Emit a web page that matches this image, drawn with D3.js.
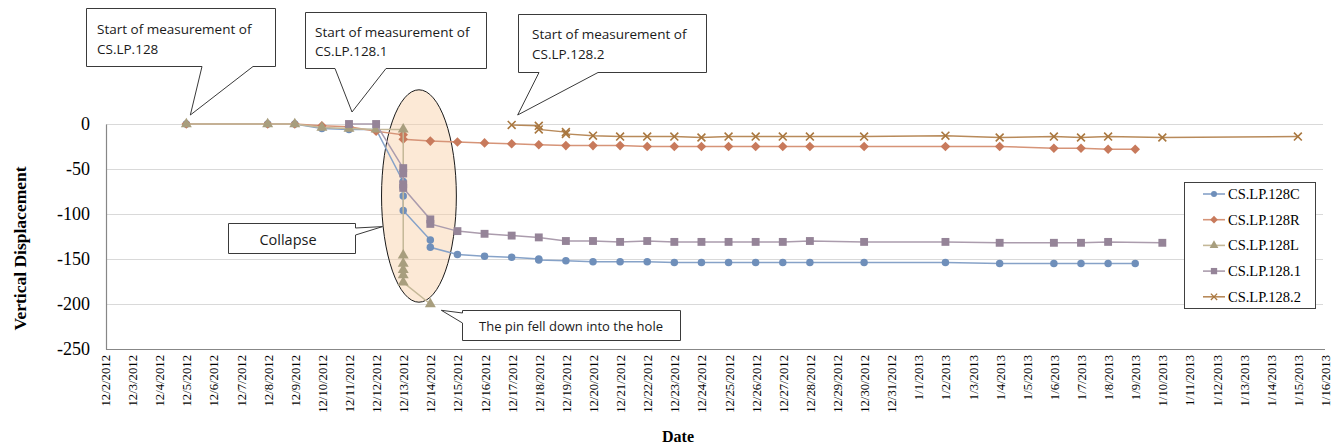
<!DOCTYPE html>
<html><head><meta charset="utf-8">
<script src="https://cdn.jsdelivr.net/npm/d3@7"></script>
<style>html,body{margin:0;padding:0;background:#fff;}svg{display:block;}
.serif{font-family:"Liberation Serif","Times New Roman",serif;}
.sans{font-family:"Open Sans","Noto Sans",sans-serif;}</style>
</head><body><svg id="chart" width="1333" height="447"></svg>
<script>
// ---------- DATA ----------
const tickLabels = ["12/2/2012","12/3/2012","12/4/2012","12/5/2012","12/6/2012","12/7/2012","12/8/2012","12/9/2012","12/10/2012","12/11/2012","12/12/2012","12/13/2012","12/14/2012","12/15/2012","12/16/2012","12/17/2012","12/18/2012","12/19/2012","12/20/2012","12/21/2012","12/22/2012","12/23/2012","12/24/2012","12/25/2012","12/26/2012","12/27/2012","12/28/2012","12/29/2012","12/30/2012","12/31/2012","1/1/2013","1/2/2013","1/3/2013","1/4/2013","1/5/2013","1/6/2013","1/7/2013","1/8/2013","1/9/2013","1/10/2013","1/11/2013","1/12/2013","1/13/2013","1/14/2013","1/15/2013","1/16/2013"];
const yTicks = [0,-50,-100,-150,-200,-250];
const seriesNames = ["CS.LP.128C","CS.LP.128R","CS.LP.128L","CS.LP.128.1","CS.LP.128.2"];

const cDates = ["12/5/2012","12/8/2012","12/9/2012","12/10/2012","12/11/2012","12/12/2012","12/13/2012","12/13/2012","12/13/2012","12/13/2012","12/14/2012","12/14/2012","12/15/2012","12/16/2012","12/17/2012","12/18/2012","12/18/2012","12/19/2012","12/20/2012","12/21/2012","12/22/2012","12/23/2012","12/24/2012","12/25/2012","12/26/2012","12/27/2012","12/28/2012","12/30/2012","1/2/2013","1/4/2013","1/6/2013","1/7/2013","1/8/2013","1/9/2013"];
const cValues = [0,0,0,-5,-6,-6,-64,-71,-80,-96,-129,-137,-145,-147,-148,-150,-151,-152,-153,-153,-153,-154,-154,-154,-154,-154,-154,-154,-154,-155,-155,-155,-155,-155];

const rDates = ["12/5/2012","12/8/2012","12/9/2012","12/10/2012","12/11/2012","12/12/2012","12/13/2012","12/13/2012","12/14/2012","12/15/2012","12/16/2012","12/17/2012","12/18/2012","12/19/2012","12/20/2012","12/21/2012","12/22/2012","12/23/2012","12/24/2012","12/25/2012","12/26/2012","12/27/2012","12/28/2012","12/30/2012","1/2/2013","1/4/2013","1/6/2013","1/7/2013","1/8/2013","1/9/2013"];
const rValues = [0,0,0,-2,-3,-8,-12,-17,-19,-20,-21,-22,-23,-24,-24,-24,-25,-25,-25,-25,-25,-25,-25,-25,-25,-25,-27,-27,-28,-28];

const lDates = ["12/5/2012","12/8/2012","12/9/2012","12/10/2012","12/11/2012","12/12/2012","12/13/2012","12/13/2012","12/13/2012","12/13/2012","12/13/2012","12/13/2012","12/14/2012"];
const lValues = [0,0,0,-4,-5,-6,-6,-146,-155,-162,-168,-176,-200];

const p1Dates = ["12/11/2012","12/12/2012","12/13/2012","12/13/2012","12/13/2012","12/13/2012","12/14/2012","12/14/2012","12/15/2012","12/16/2012","12/17/2012","12/18/2012","12/19/2012","12/20/2012","12/21/2012","12/22/2012","12/23/2012","12/24/2012","12/25/2012","12/26/2012","12/27/2012","12/28/2012","12/30/2012","1/2/2013","1/4/2013","1/6/2013","1/7/2013","1/8/2013","1/10/2013"];
const p1Values = [0,0,-49,-55,-67,-71,-106,-111,-119,-122,-124,-126,-130,-130,-131,-130,-131,-131,-131,-131,-131,-130,-131,-131,-132,-132,-132,-131,-132];

const p2Dates = ["12/17/2012","12/18/2012","12/18/2012","12/19/2012","12/19/2012","12/20/2012","12/21/2012","12/22/2012","12/23/2012","12/24/2012","12/25/2012","12/26/2012","12/27/2012","12/28/2012","12/30/2012","1/2/2013","1/4/2013","1/6/2013","1/7/2013","1/8/2013","1/10/2013","1/15/2013"];
const p2Values = [-1,-2,-6,-9,-11,-13,-14,-14,-14,-15,-14,-14,-14,-14,-14,-13,-15,-14,-15,-14,-15,-14];

const seriesDates = [cDates, rDates, lDates, p1Dates, p2Dates];
const seriesValues = [cValues, rValues, lValues, p1Values, p2Values];
const markerColors = ["#6f8fba","#c87a5c","#a89e7e","#958498","#a9773f"];
const lineColors   = ["#86a2c8","#d69478","#c4b898","#ab9cad","#b88a5a"];
const markerTypes  = ["circle","diamond","triangle","square","x"];

// ---------- SETUP ----------
const parse = d3.timeParse("%m/%d/%Y");
const svg = d3.select("#chart");
const pLeft = 106, pRight = 1325, pTop = 124, pBottom = 349;

const x = d3.scaleTime().domain([parse(tickLabels[0]), parse(tickLabels[tickLabels.length-1])]).range([pLeft-1, pRight]);
const y = d3.scaleLinear().domain([-250, 0]).range([pBottom, pTop]);
const dayW = x(parse("12/3/2012")) - x(parse("12/2/2012"));

// gridlines
svg.append("g").selectAll("line").data(yTicks.slice(0,5)).join("line")
  .attr("x1", pLeft).attr("x2", pRight-2).attr("y1", d => y(d) + 0.5).attr("y2", d => y(d) + 0.5)
  .attr("stroke", "#d9d9d9").attr("stroke-width", 1);

// axes
const yAxis = svg.append("g").attr("transform", `translate(${pLeft},0)`)
  .call(d3.axisLeft(y).tickValues(yTicks).tickSize(0).tickPadding(16).tickFormat(d => String(d)));
yAxis.attr("font-family", null).attr("font-size", null);
yAxis.select(".domain").attr("stroke", "#878787").attr("stroke-width", 1.2);
yAxis.selectAll("text").attr("class", "serif").style("font-size", "18px").attr("fill", "#000");

const xAxis = svg.append("g").attr("transform", `translate(0,${pBottom})`)
  .call(d3.axisBottom(x).tickValues(tickLabels.map(parse)).tickSize(0).tickFormat((d,i) => tickLabels[i]));
xAxis.attr("font-family", null).attr("font-size", null);
xAxis.select(".domain").attr("stroke", "#878787").attr("stroke-width", 1.2).attr("d", `M${pLeft},0.5H${pRight}`);
xAxis.selectAll("text").attr("class", "serif").style("font-size", "12.7px").attr("fill", "#000")
  .attr("text-anchor", "end").attr("transform", "rotate(-90)").attr("x", -6).attr("y", 0).attr("dy", "0.35em");

// axis titles
svg.append("text").attr("class", "serif").attr("transform", `translate(26,${(pTop+pBottom)/2+12}) rotate(-90)`)
  .attr("text-anchor", "middle").style("font-weight", "bold").style("font-size", "17.5px").text("Vertical Displacement");
svg.append("text").attr("class", "serif").attr("x", 678).attr("y", 442).attr("text-anchor", "middle")
  .style("font-weight", "bold").style("font-size", "16px").text("Date");

// collapse ellipse (annotation, in data space)
const ellCx = x(parse("12/13/2012")) + 0.58 * dayW;
const ellCy = y(-80);
svg.append("ellipse").attr("cx", ellCx).attr("cy", ellCy)
  .attr("rx", 1.38 * dayW).attr("ry", y(-118) - y(0))
  .attr("fill", "#f8cfa4").attr("fill-opacity", 0.45).attr("stroke", "#1a1a1a").attr("stroke-width", 1);

// symbols
function symbolPath(type) {
  switch (type) {
    case "circle": return d3.symbol(d3.symbolCircle, 44)();
    case "diamond": { const r = 4.8; return `M0,${-r}L${r},0L0,${r}L${-r},0Z`; }
    case "triangle": return d3.symbol(d3.symbolTriangle, 52)();
    case "square": return d3.symbol(d3.symbolSquare, 62)();
    case "x": return d3.symbol(d3.symbolX, 42)();
  }
}

// series
seriesNames.forEach((name, si) => {
  const pts = seriesDates[si].map((d, i) => ({date: parse(d), value: seriesValues[si][i]}));
  const line = d3.line().x(d => x(d.date)).y(d => y(d.value));
  const g = svg.append("g");
  g.append("path").attr("d", line(pts)).attr("fill", "none")
    .attr("stroke", lineColors[si]).attr("stroke-width", 1.5);
  const mk = g.selectAll("path.m").data(pts).join("path").attr("class", "m")
    .attr("transform", d => `translate(${x(d.date)},${y(d.value)})`)
    .attr("d", symbolPath(markerTypes[si]));
  if (markerTypes[si] === "x") mk.attr("fill", "none").attr("stroke", markerColors[si]).attr("stroke-width", 1.6);
  else mk.attr("fill", markerColors[si]);
});

// legend
const lg = svg.append("g");
lg.append("rect").attr("x", 1184.5).attr("y", 182.5).attr("width", 131).attr("height", 126)
  .attr("fill", "#fff").attr("stroke", "#404040").attr("stroke-width", 1);
seriesNames.forEach((name, si) => {
  const ly = 194 + si * 25.7;
  lg.append("line").attr("x1", 1203).attr("x2", 1225).attr("y1", ly).attr("y2", ly)
    .attr("stroke", lineColors[si]).attr("stroke-width", 1.6);
  const m = lg.append("path").attr("transform", `translate(1214,${ly}) scale(0.8)`).attr("d", symbolPath(markerTypes[si]));
  if (markerTypes[si] === "x") m.attr("fill", "none").attr("stroke", markerColors[si]).attr("stroke-width", 1.6);
  else m.attr("fill", markerColors[si]);
  lg.append("text").attr("class", "serif").attr("x", 1228).attr("y", ly).attr("dy", "0.35em")
    .style("font-size", "14.5px").attr("fill", "#000").text(name);
});

// callouts (annotations)
function callout(bx, by, bw, bh, tip, base, lines, opts) {
  let p = `M${bx},${by}`;
  const x2 = bx + bw, y2 = by + bh;
  if (base.side === "bottom") {
    p += `H${x2}V${y2}H${base.b}L${tip[0]},${tip[1]}L${base.a},${y2}H${bx}Z`;
  } else if (base.side === "right") {
    p += `H${x2}V${base.a}L${tip[0]},${tip[1]}L${x2},${base.b}V${y2}H${bx}Z`;
  } else {
    p += `H${x2}V${y2}H${bx}V${base.b}L${tip[0]},${tip[1]}L${bx},${base.a}Z`;
  }
  svg.append("path").attr("d", p).attr("fill", "#fff").attr("stroke", "#3a3a3a").attr("stroke-width", 1);
  lines.forEach((t, i) => {
    svg.append("text").attr("class", "sans").attr("x", opts.tx).attr("y", opts.ty + i * opts.lh)
      .attr("text-anchor", opts.anchor || "start")
      .style("font-size", opts.fs + "px").attr("fill", "#1a1a1a").text(t);
  });
}
const t1 = [x(parse("12/5/2012")) + 4, y(0) - 9];
const t2 = [x(parse("12/11/2012")) + 3, y(0) - 12];
const t3 = [x(parse("12/17/2012")) + 6, y(0) - 9];
callout(86.5, 8.5, 189, 58, t1, {side:"bottom", a:202, b:253}, ["Start of measurement of","CS.LP.128"], {tx:97, ty:34, lh:20, fs:13.5});
callout(305.5, 12.5, 181, 56, t2, {side:"bottom", a:335, b:386}, ["Start of measurement of","CS.LP.128.1"], {tx:315, ty:37, lh:19, fs:13.5});
callout(518.5, 14.5, 188, 58, t3, {side:"bottom", a:539, b:598}, ["Start of measurement of","CS.LP.128.2"], {tx:532, ty:39, lh:20, fs:13.5});
callout(228.5, 223.5, 127, 30, [ellCx - 1.38*dayW + 1, y(-114)], {side:"right", a:228, b:235}, ["Collapse"], {tx:288, ty:245, lh:0, fs:14.5, anchor:"middle"});
callout(462.5, 310.5, 218, 30, [x(parse("12/14/2012")) + 11, y(-207)], {side:"left", a:313, b:323}, ["The pin fell down into the hole"], {tx:571, ty:331, lh:0, fs:13, anchor:"middle"});
</script></body></html>
